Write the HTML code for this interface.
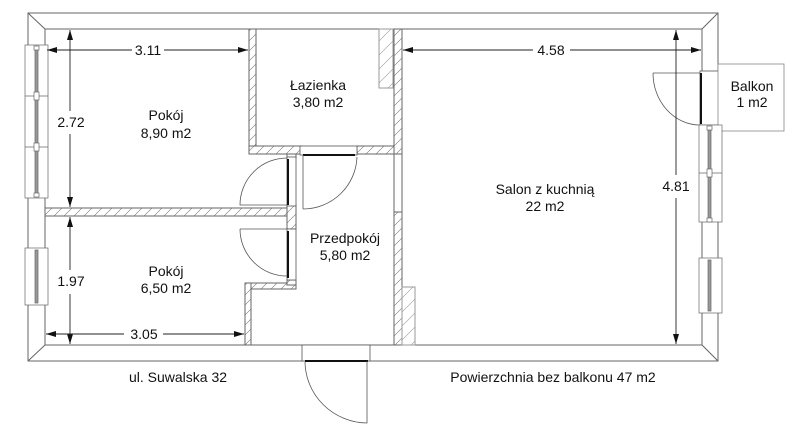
<!DOCTYPE html>
<html><head><meta charset="utf-8"><style>
html,body{margin:0;padding:0;background:#fff;}
svg{display:block}
text{font-family:"Liberation Sans",sans-serif;font-size:14px;fill:#111;text-anchor:middle}
</style></head><body>
<svg width="800" height="434" viewBox="0 0 800 434" xmlns="http://www.w3.org/2000/svg">
<defs>
<pattern id="h" width="10" height="10" patternUnits="userSpaceOnUse">
<rect width="10" height="10" fill="#fff"/>
<path d="M0 10 L10 0 M-2 2 L2 -2 M8 12 L12 8" stroke="#777" stroke-width="0.6"/>
</pattern>
<pattern id="h2" width="14" height="14" patternUnits="userSpaceOnUse">
<rect width="14" height="14" fill="#fff"/>
<path d="M0 14 L14 0 M-2 2 L2 -2 M12 16 L16 12" stroke="#999" stroke-width="0.6"/>
</pattern>
<marker id="a" viewBox="0 0 10 6" refX="10" refY="3" markerWidth="10" markerHeight="6" orient="auto-start-reverse" markerUnits="userSpaceOnUse"><path d="M0 0 L10 3 L0 6 z" fill="#111"/></marker>
</defs>
<g fill="none" stroke="#666" stroke-width="1">
<path d="M28 13 H718 V361 H28 Z M45 29 H702 V345 H45 Z" fill="#fff" fill-rule="evenodd"/>
<path d="M28 13 L45 29 M718 13 L702 29 M718 361 L702 345 M28 361 L45 345"/>
<rect x="249" y="29" width="7" height="125" fill="url(#h)"/>
<rect x="249" y="146" width="53" height="8" fill="url(#h)"/>
<rect x="357" y="146" width="37" height="8" fill="url(#h)"/>
<rect x="394" y="29" width="8" height="125" fill="url(#h)"/>
<line x1="394" y1="154" x2="394" y2="212"/><line x1="402" y1="154" x2="402" y2="212"/>
<rect x="394" y="212" width="8" height="133" fill="url(#h)"/>
<rect x="379" y="29" width="14" height="59" fill="url(#h2)" stroke="#999"/>
<rect x="402" y="287" width="13" height="58" fill="url(#h2)" stroke="#999"/>
<rect x="45" y="208" width="251" height="8" fill="url(#h)"/>
<rect x="287" y="154" width="9" height="4" />
<rect x="287" y="205" width="9" height="24" fill="url(#h)"/>
<rect x="245" y="283" width="51" height="6" fill="url(#h)"/>
<rect x="245" y="283" width="6" height="62" fill="url(#h)"/>
<rect x="287" y="280" width="9" height="5" fill="url(#h)"/>
</g>
<g fill="none" stroke="#555" stroke-width="0.8">
<rect x="300" y="146" width="57" height="9" fill="#fff"/>
<line x1="303" y1="155" x2="355" y2="155" stroke="#111" stroke-width="2"/>
<path d="M357 157 A54 54 0 0 1 303 209"/><line x1="303" y1="155" x2="303" y2="209"/>
<rect x="287" y="157" width="9" height="49" fill="#fff"/>
<line x1="288" y1="159" x2="288" y2="205" stroke="#111" stroke-width="2"/>
<path d="M287 158 A47 47 0 0 0 240 205 H287"/>
<rect x="287" y="229" width="9" height="51" fill="#fff"/>
<line x1="288" y1="231" x2="288" y2="278" stroke="#111" stroke-width="2"/>
<path d="M240 229 H287 M240 229 A47 47 0 0 0 287 276"/>
<rect x="302" y="345" width="68" height="16" fill="#fff"/>
<line x1="305" y1="361" x2="368" y2="361" stroke="#111" stroke-width="2"/>
<path d="M305 362 A63 62 0 0 0 367 423 V361"/>
<rect x="700" y="71" width="19" height="54" fill="#fff"/>
<line x1="701" y1="73" x2="701" y2="124" stroke="#111" stroke-width="2"/>
<path d="M653 73 H700 M653 73 A47 52 0 0 0 700 125"/>
<rect x="718" y="64" width="66" height="67" fill="#fff" stroke="#888"/>
</g>
<g stroke="#666" stroke-width="0.7" fill="#fff">
<rect x="25" y="45" width="23" height="153"/><line x1="25" y1="96" x2="48" y2="96"/><line x1="25" y1="147" x2="48" y2="147"/>
<rect x="35" y="47" width="3" height="149" fill="#999"/>
<rect x="34" y="46" width="5" height="4"/><rect x="34" y="92" width="5" height="8"/><rect x="34" y="143" width="5" height="8"/><rect x="34" y="193" width="5" height="4"/>
<rect x="25" y="248" width="23" height="57"/><rect x="35" y="250" width="3" height="53" fill="#999"/>
<rect x="699" y="125" width="23" height="97"/><line x1="699" y1="173" x2="722" y2="173"/>
<rect x="708" y="127" width="3" height="93" fill="#999"/>
<rect x="707" y="126" width="5" height="4"/><rect x="707" y="169" width="5" height="8"/><rect x="707" y="218" width="5" height="4"/>
<rect x="699" y="258" width="23" height="55"/><rect x="708" y="260" width="3" height="51" fill="#999"/>
</g>
<g stroke="#222" stroke-width="0.9">
<line x1="47" y1="50" x2="132" y2="50" marker-start="url(#a)"/><line x1="164" y1="50" x2="248" y2="50" marker-end="url(#a)"/>
<line x1="70" y1="30" x2="70" y2="111" marker-start="url(#a)"/><line x1="70" y1="134" x2="70" y2="207" marker-end="url(#a)"/>
<line x1="70" y1="217" x2="70" y2="270" marker-start="url(#a)"/><line x1="70" y1="294" x2="70" y2="344" marker-end="url(#a)"/>
<line x1="46" y1="334" x2="124" y2="334" marker-start="url(#a)"/><line x1="163" y1="334" x2="244" y2="334" marker-end="url(#a)"/>
<line x1="403" y1="50" x2="533" y2="50" marker-start="url(#a)"/><line x1="570" y1="50" x2="701" y2="50" marker-end="url(#a)"/>
<line x1="676" y1="30" x2="676" y2="175" marker-start="url(#a)"/><line x1="676" y1="198" x2="676" y2="344" marker-end="url(#a)"/>
</g>
<text x="148" y="55">3.11</text>
<text x="71" y="127">2.72</text>
<text x="71" y="286">1.97</text>
<text x="144" y="339">3.05</text>
<text x="551" y="55">4.58</text>
<text x="676" y="191">4.81</text>
<text x="166" y="120">Pokój</text><text x="166" y="138">8,90 m2</text>
<text x="318" y="90">Łazienka</text><text x="318" y="107">3,80 m2</text>
<text x="166" y="276">Pokój</text><text x="166" y="293">6,50 m2</text>
<text x="345" y="243">Przedpokój</text><text x="345" y="260">5,80 m2</text>
<text x="545" y="194">Salon z kuchnią</text><text x="545" y="211">22 m2</text>
<text x="752" y="91">Balkon</text><text x="752" y="107">1 m2</text>
<text x="178" y="382">ul. Suwalska 32</text>
<text x="553" y="382">Powierzchnia bez balkonu 47 m2</text>
</svg>
</body></html>
